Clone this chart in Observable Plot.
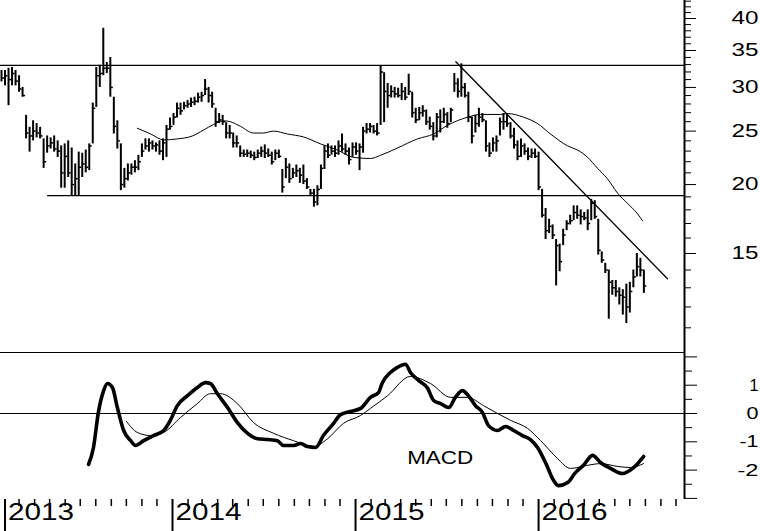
<!DOCTYPE html>
<html><head><meta charset="utf-8">
<script src="https://cdn.jsdelivr.net/npm/d3@7"></script>
<script src="https://cdn.jsdelivr.net/npm/@observablehq/plot@0.6"></script>
<style>
body{margin:0;background:#fff;}
#chart{width:760px;height:531px;background:#fff;}
#chart svg{display:block;}
</style></head><body><div id="chart"></div>
<script>
// ---------- data (weekly bars from 2013-01-25) ----------
const startDate = "2013-01-25";
const high = [32.2,32.2,32.5,32.6,32.2,31.5,30.0,26.7,25.4,26.1,
 25.8,25.4,24.2,24.5,24.3,24.5,24.0,23.5,23.7,24.0,
 23.3,21.8,22.9,22.8,23.1,23.7,28.1,32.6,32.9,38.4,
 33.3,34.0,28.8,26.1,23.7,21.4,21.8,21.8,22.1,22.6,
 23.7,24.2,24.2,24.0,23.8,24.0,24.2,25.6,26.4,26.9,
 28.1,28.1,28.2,28.4,28.7,28.8,29.3,29.4,31.0,30.0,
 29.4,27.5,26.9,26.7,25.9,25.6,24.8,24.5,23.5,23.1,
 23.1,23.0,22.9,23.1,23.4,23.6,23.2,22.9,23.1,23.1,
 21.3,22.3,21.8,21.4,21.7,21.4,21.7,20.5,19.6,19.6,
 19.9,21.7,23.5,23.7,23.5,23.5,24.0,24.7,23.7,23.3,
 23.8,23.8,23.7,25.4,25.8,25.8,25.6,25.8,32.8,31.9,
 30.5,30.2,30.0,29.9,30.5,30.0,31.7,29.4,27.5,27.6,
 27.8,27.3,26.5,25.9,26.9,27.3,27.5,27.0,27.5,31.8,
 31.1,33.1,30.5,29.4,26.5,26.7,27.5,26.9,26.1,23.8,
 24.3,24.5,26.4,26.9,26.9,25.9,25.3,24.0,24.2,23.7,
 23.3,23.2,23.2,22.9,19.6,18.1,17.3,16.9,15.9,15.6,
 16.6,17.2,17.6,18.3,18.3,18.0,17.8,18.0,18.8,18.7,
 17.3,15.1,14.4,14.0,13.4,13.4,13.0,12.9,13.2,13.3,
 14.0,15.0,14.7,14.0];
const low = [30.7,30.2,27.8,30.2,30.2,29.4,28.8,24.2,22.9,24.0,
 24.3,24.2,21.4,22.8,23.2,22.9,22.4,19.7,19.7,20.6,
 19.1,19.1,19.1,20.6,21.0,21.2,23.7,27.6,30.0,31.5,
 31.8,28.8,24.7,23.2,19.5,19.7,20.3,20.8,21.0,21.2,
 22.4,23.1,22.9,23.1,22.9,22.6,22.1,22.4,25.1,25.6,
 26.4,26.7,27.3,27.5,27.6,27.8,28.1,28.2,29.0,28.1,
 27.5,25.4,25.8,25.6,24.2,24.2,23.3,23.3,22.4,22.4,
 22.4,22.3,22.1,22.3,22.4,22.3,22.4,21.7,22.1,22.3,
 19.3,20.5,20.1,20.5,20.6,20.1,20.0,19.6,19.1,18.2,
 18.3,19.6,21.3,22.3,22.6,22.4,22.6,22.9,22.6,21.7,
 22.4,22.6,21.2,22.8,24.7,24.8,24.7,24.5,25.6,25.9,
 27.5,28.7,28.7,28.7,28.4,28.4,29.0,26.4,25.8,26.1,
 26.5,25.6,25.1,24.0,24.3,24.8,25.8,25.3,25.9,29.4,
 28.7,28.8,28.7,25.9,23.7,24.8,25.4,25.9,22.9,22.4,
 22.9,22.9,24.5,25.1,25.4,24.2,23.2,22.1,22.4,22.6,
 22.1,22.3,22.3,19.5,17.4,15.9,16.3,15.9,13.1,13.9,
 15.5,16.5,16.9,17.2,17.3,16.9,17.2,16.5,17.2,17.3,
 14.9,14.4,13.8,11.4,12.6,12.5,12.1,11.6,11.2,11.7,
 13.0,13.6,13.6,12.7];
const close = [31.2,31.5,31.0,31.8,30.8,29.8,29.0,24.8,24.5,25.0,
 24.8,24.5,22.0,23.5,23.8,23.2,23.0,21.0,22.5,21.0,
 20.0,20.5,21.5,21.8,21.5,23.5,27.5,31.5,31.8,32.5,
 32.5,30.0,25.5,24.0,20.0,20.5,21.0,21.5,21.5,22.0,
 23.0,23.5,23.8,23.5,23.6,23.0,23.8,25.2,25.5,26.5,
 27.5,27.2,27.8,28.0,28.2,28.3,28.8,29.0,29.8,29.0,
 28.0,26.0,26.2,26.0,24.8,24.8,23.8,23.8,22.8,22.7,
 22.8,22.6,22.4,22.8,23.0,22.8,22.6,22.0,22.8,22.5,
 19.8,21.5,20.5,21.0,21.2,20.8,20.3,19.8,19.3,18.6,
 19.6,21.4,23.0,22.6,23.0,22.8,23.5,23.2,23.0,22.2,
 23.4,23.0,23.4,25.0,25.2,25.5,25.0,24.8,32.0,29.5,
 29.0,29.5,29.2,29.0,29.5,28.8,29.5,27.0,26.2,27.0,
 27.2,26.0,25.5,24.5,26.5,26.0,26.8,25.8,27.3,30.5,
 29.5,30.0,29.0,26.5,24.5,25.8,26.5,26.2,23.5,22.8,
 23.8,24.0,26.0,26.0,25.8,24.5,23.6,22.5,23.5,23.0,
 22.5,22.8,22.5,19.8,17.6,16.5,16.8,16.2,15.5,14.5,
 16.2,17.0,17.2,17.8,17.6,17.5,17.4,17.0,18.5,17.5,
 15.2,14.6,14.0,13.3,13.0,12.8,12.6,12.5,12.0,12.8,
 13.6,14.2,14.0,13.1];

// 40-week moving average, [week index, price]
const maLine = [[38.7,25.3],[42.5,24.7],[46.2,24.1],[50.1,24.2],[54.4,24.5],[57.5,25.1],[60.4,25.7],[63.2,26.1],[65.2,26.0],[68.1,25.5],[71.8,24.8],[74.6,24.8],[77.5,25.0],[81.5,24.7],[86,24.4],[90.9,23.7],[95.7,23.1],[100.3,22.4],[105.1,22.3],[108,22.6],[112.8,23.3],[118.5,24.2],[123.1,24.7],[127,25.6],[132.8,26.5],[136.5,26.8],[142.2,26.8],[144.2,26.9],[148.7,26.5],[152.7,25.8],[156.4,24.7],[161.3,23.5],[164.1,23.1],[167,22.4],[169.8,21.4],[172.6,20.5],[175.5,19.3],[178.3,18.5],[181.2,17.7],[182.6,17.2]];

// MACD [week index, value]
const macdLine = [[24.8,-1.80],[26.2,-1.20],[27.6,0.04],[29.1,0.81],[30.2,1.06],[31.6,0.92],[33,0.21],[34.8,-0.60],[36.8,-0.96],[38.2,-1.13],[40.5,-0.96],[43.3,-0.78],[46.2,-0.60],[48.1,-0.24],[50.1,0.28],[53,0.63],[55.8,0.92],[58.1,1.09],[59.5,1.06],[61.5,0.70],[64.4,0.21],[67.2,-0.32],[70.1,-0.70],[72.9,-0.89],[75.8,-0.92],[78.6,-0.96],[80.3,-1.13],[83.2,-1.13],[85.2,-1.06],[87.2,-1.17],[89.5,-1.20],[91.7,-0.78],[94.6,-0.35],[96.6,-0.04],[99.4,0.07],[102.3,0.18],[105.1,0.57],[107.4,0.74],[108.5,1.09],[110.8,1.45],[112.8,1.63],[115.1,1.74],[116.5,1.45],[118.8,1.17],[121.4,0.89],[123.1,0.46],[125.1,0.35],[127.4,0.21],[129.3,0.57],[131.3,0.81],[133,0.63],[135,0.28],[137,0.04],[138.7,-0.42],[141.3,-0.60],[143.6,-0.46],[145.9,-0.60],[148.4,-0.78],[150.7,-0.92],[152.7,-1.20],[155,-1.74],[157.3,-2.37],[158.7,-2.55],[161.3,-2.44],[163.5,-2.09],[165.8,-1.83],[168.4,-1.48],[170.7,-1.74],[173.5,-1.94],[176.9,-2.12],[179.8,-1.94],[182.9,-1.52]];
const signalLine = [[35.6,-0.28],[38.7,-0.67],[42.5,-0.78],[46.2,-0.67],[51,-0.14],[55.8,0.35],[59.5,0.70],[62.4,0.70],[67.2,0.35],[71.8,-0.32],[77.5,-0.70],[83.2,-0.96],[88.9,-1.17],[92.9,-0.89],[97.4,-0.35],[102.3,-0.07],[105.1,0.18],[110,0.63],[116.5,1.31],[122.2,1.06],[128,0.57],[132.8,0.57],[137.3,0.28],[141.3,0],[145,-0.24],[149.9,-0.53],[153.6,-0.96],[158.4,-1.59],[162.1,-1.94],[167,-1.83],[170.7,-1.77],[175.5,-1.87],[179.2,-1.91],[182.9,-1.77]];

const resistance = 32.9;
const support = 19.1;
const supportStart = "2013-04-27";
const trendLine = [["2015-07-20", 33.4], ["2016-09-14", 13.5]];
const priceMajor = [15, 20, 25, 30, 35, 40];
const priceMinor = [11,12,13,14,16,17,18,19,21,22,23,24,26,27,28,29,31,32,33,34,36,37,38,39,41,42,43];
const macdMajor = [2, 1, 0, -1, -2, -3];
const macdMinor = [1.5, 0.5, -0.5, -1.5, -2.5];
const macdLabels = ["1", "0", "-1", "-2"];
const yearTicks = [["2013-02-01", "2013"], ["2014-01-01", "2014"], ["2015-01-01", "2015"], ["2016-01-01", "2016"]];
const macdText = {date: "2015-04-14", value: -1.59, label: "MACD"};
const xDomain = ["2013-01-23", "2016-10-18"];

// ---------- build ----------
const W = 760, axisPx = 684;
const DAY = 864e5;
const wkDate = w => new Date(Date.parse(startDate) + w * 7 * DAY);
const bars = high.map((h, i) => ({date: wkDate(i), high: h, low: low[i], close: close[i]}));
const xStart = new Date(xDomain[0]), xEnd = new Date(xDomain[1]);
const xScale = {type: "utc", domain: [xStart, xEnd], range: [0, axisPx], axis: null};
const font = "'Liberation Sans', Arial, sans-serif";
const monthTicks = d3.utcMonth.range(new Date("2013-03-01"), new Date("2016-10-02")).filter(d => d.getUTCMonth() !== 0);

const priceChart = Plot.plot({
  width: W, height: 351,
  marginTop: 0, marginBottom: 0, marginLeft: 0, marginRight: W - axisPx,
  style: {fontFamily: font, color: "#000", background: "#fff", overflow: "visible"},
  x: xScale,
  y: {type: "log", domain: [15, 40], range: [253, 18], axis: null},
  marks: [
    Plot.ruleY([resistance], {stroke: "#000", strokeWidth: 1.2}),
    Plot.ruleY([support], {x1: () => new Date(supportStart), x2: () => xEnd, stroke: "#000", strokeWidth: 1.2}),
    Plot.ruleX(bars, {x: "date", y1: "low", y2: "high", stroke: "#000", strokeWidth: 2}),
    Plot.ruleY(bars, {y: "close", x1: "date", x2: d => new Date(+d.date + 6 * DAY), stroke: "#000", strokeWidth: 1.5}),
    Plot.line(maLine, {x: d => wkDate(d[0]), y: d => d[1], stroke: "#000", strokeWidth: 1, curve: "monotone-x"}),
    Plot.line(trendLine, {x: d => new Date(d[0]), y: d => d[1], stroke: "#000", strokeWidth: 1.3}),
    Plot.ruleX([xEnd], {stroke: "#000", strokeWidth: 2}),
    Plot.axisY({anchor: "right", ticks: priceMinor, tickSize: 6, fill: "none", stroke: "#000", label: null}),
    Plot.axisY({anchor: "right", ticks: priceMajor, tickSize: 11, fill: "none", stroke: "#000", label: null}),
    Plot.text(priceMajor, {x: () => xEnd, y: d => d, text: d => String(d), dx: 74, textAnchor: "end", fontSize: 18, fill: "#000", className: "plbl"})
  ]
});

const macdChart = Plot.plot({
  width: W, height: 180,
  marginTop: 0, marginBottom: 32, marginLeft: 0, marginRight: W - axisPx,
  style: {fontFamily: font, color: "#000", background: "#fff", overflow: "visible"},
  x: xScale,
  y: {domain: [-3, 2], range: [146.9, 5.4], axis: null},
  marks: [
    Plot.ruleY([2.155], {stroke: "#000", strokeWidth: 1.2}),
    Plot.ruleY([0], {stroke: "#000", strokeWidth: 1.2}),
    Plot.line(signalLine, {x: d => wkDate(d[0]), y: d => d[1], stroke: "#000", strokeWidth: 1, curve: "monotone-x"}),
    Plot.line(macdLine, {x: d => wkDate(d[0]), y: d => d[1], stroke: "#000", strokeWidth: 3.6, curve: "monotone-x", strokeLinejoin: "round"}),
    Plot.text([macdText], {x: d => new Date(d.date), y: "value", text: "label", textAnchor: "start", fontSize: 18, fill: "#000", className: "mlbl"}),
    Plot.ruleX([xEnd], {stroke: "#000", strokeWidth: 2}),
    Plot.axisY({anchor: "right", ticks: macdMinor, tickSize: 7, fill: "none", stroke: "#000", label: null}),
    Plot.axisY({anchor: "right", ticks: macdMajor, tickSize: 12, fill: "none", stroke: "#000", label: null}),
    Plot.text(macdLabels, {x: () => xEnd, y: d => +d, text: d => d, dx: 74, textAnchor: "end", fontSize: 17, fill: "#000", className: "mtick"}),
    Plot.axisX({anchor: "bottom", ticks: monthTicks, tickSize: 7, fill: "none", stroke: "#000", strokeWidth: 1.5, label: null}),
    Plot.axisX({anchor: "bottom", ticks: yearTicks.map(d => new Date(d[0])), tickSize: 32, fill: "none", stroke: "#000", strokeWidth: 2, label: null}),
    Plot.text(yearTicks, {x: d => new Date(d[0]), text: d => d[1], frameAnchor: "bottom", dy: 20, dx: 3, textAnchor: "start", fontSize: 23, fill: "#000", className: "ylbl"})
  ]
});

const root = document.getElementById("chart");
root.appendChild(priceChart);
root.appendChild(macdChart);

d3.select(priceChart).selectAll(".plbl text").attr("textLength", 27).attr("lengthAdjust", "spacingAndGlyphs");
d3.select(macdChart).selectAll(".ylbl text").attr("textLength", 66).attr("lengthAdjust", "spacingAndGlyphs");
d3.select(macdChart).selectAll(".mlbl text").attr("textLength", 66).attr("lengthAdjust", "spacingAndGlyphs");
const mw = {"1": 9, "0": 12, "-1": 19, "-2": 21};
d3.select(macdChart).selectAll(".mtick text").each(function() {
  const t = this.textContent;
  if (mw[t]) this.setAttribute("textLength", mw[t]);
  this.setAttribute("lengthAdjust", "spacingAndGlyphs");
});
</script></body></html>
